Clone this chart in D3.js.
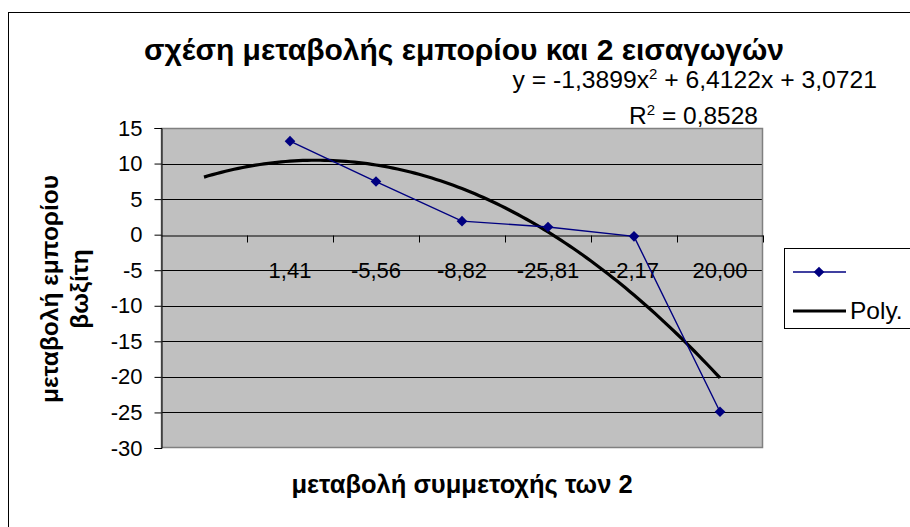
<!DOCTYPE html>
<html>
<head>
<meta charset="utf-8">
<script src="https://cdn.jsdelivr.net/npm/d3@7"></script>
<style>
  html, body { margin: 0; padding: 0; background: #fff; }
  svg { display: block; font-family: "Liberation Sans", Arial, sans-serif; }
</style>
</head>
<body>
<svg id="chart" width="910" height="527"></svg>
<script>
// ---- data ----
const categories = ["", "1,41", "-5,56", "-8,82", "-25,81", "-2,17", "20,00"];
const values = [null, 13.15, 7.47, 1.9, 1.08, -0.24, -24.9];
const yTicks = [15, 10, 5, 0, -5, -10, -15, -20, -25, -30];
const trendCoefficients = [-1.3899, 6.4122, 3.0721]; // a x^2 + b x + c
const rSquared = "0,8528";
const titleText = "σχέση μεταβολής εμπορίου και 2 εισαγωγών";
const xTitleText = "μεταβολή συμμετοχής των 2";
const yTitleLines = ["μεταβολή εμπορίου", "βωξίτη"];
const legendLabels = ["", "Poly."];

// ---- layout ----
const plot = { left: 161, right: 763, top: 128, bottom: 448 };
const svg = d3.select("#chart");
const FONT = "Liberation Sans, Arial, sans-serif";

// chart border
svg.append("rect").attr("x", 8.5).attr("y", 12.5).attr("width", 1000).attr("height", 600)
  .attr("fill", "#fff").attr("stroke", "#000").attr("stroke-width", 1);

const x = d3.scaleBand().domain(d3.range(categories.length)).range([plot.left, plot.right]).padding(0);
const xc = i => x(i) + x.bandwidth() / 2;
const y = d3.scaleLinear().domain([-30, 15]).range([plot.bottom, plot.top]);

// plot area
svg.append("rect").attr("x", plot.left).attr("y", plot.top)
  .attr("width", plot.right - plot.left).attr("height", plot.bottom - plot.top)
  .attr("fill", "#c0c0c0");

// gridlines
svg.append("g").selectAll("line").data(yTicks.filter(v => v !== 15 && v !== -30 && v !== 0)).join("line")
  .attr("x1", plot.left).attr("x2", plot.right)
  .attr("y1", d => Math.round(y(d)) + 0.5).attr("y2", d => Math.round(y(d)) + 0.5)
  .attr("stroke", "#000").attr("stroke-width", 1);

// plot border (gray)
svg.append("rect").attr("x", plot.left + 0.5).attr("y", plot.top + 0.5)
  .attr("width", plot.right - plot.left - 1).attr("height", plot.bottom - plot.top - 1)
  .attr("fill", "none").attr("stroke", "#808080").attr("stroke-width", 1.5);

// y axis
const yAxis = d3.axisLeft(y).tickValues(yTicks).tickSize(7).tickPadding(12).tickFormat(d => String(d));
const gy = svg.append("g").attr("transform", `translate(${plot.left + 0.5},0)`).call(yAxis);
gy.select(".domain").attr("stroke", "#000");
gy.selectAll(".tick line").attr("stroke", "#000");
gy.selectAll(".tick text").attr("font-size", 22).attr("fill", "#000").attr("font-family", FONT);

// x axis at y = 0
const xAxis = d3.axisBottom(x).tickSize(0).tickFormat(i => categories[i]);
const y0 = Math.round(y(0)) + 0.5;
const gx = svg.append("g").attr("transform", `translate(0,${y0})`).call(xAxis);
gx.select(".domain").attr("stroke", "#000");
gx.selectAll(".tick text").attr("font-size", 22).attr("fill", "#000").attr("font-family", FONT)
  .attr("y", 42).attr("dy", 0);
// tick marks between categories
const boundaries = d3.range(1, categories.length + 1).map(i => plot.left + i * x.bandwidth());
svg.append("g").selectAll("line").data(boundaries).join("line")
  .attr("x1", d => Math.round(d) + 0.5).attr("x2", d => Math.round(d) + 0.5)
  .attr("y1", y0).attr("y2", y0 + 7).attr("stroke", "#000");

// trendline
const poly = t => trendCoefficients[0] * t * t + trendCoefficients[1] * t + trendCoefficients[2];
const tx = d3.scaleLinear().domain([1, categories.length]).range([xc(0), xc(categories.length - 1)]);
const tSamples = d3.range(1, categories.length + 0.001, 0.05);
svg.append("path").datum(tSamples)
  .attr("d", d3.line().x(t => tx(t)).y(t => y(poly(t))))
  .attr("fill", "none").attr("stroke", "#000").attr("stroke-width", 3.2);

// series line
const pts = values.map((v, i) => ({ i, v })).filter(d => d.v !== null);
svg.append("path").datum(pts)
  .attr("d", d3.line().x(d => xc(d.i)).y(d => y(d.v)))
  .attr("fill", "none").attr("stroke", "#000080").attr("stroke-width", 1.4);
const diamond = d3.symbol().type(d3.symbolDiamond2).size(72);
svg.append("g").selectAll("path").data(pts).join("path")
  .attr("transform", d => `translate(${xc(d.i)},${y(d.v)})`)
  .attr("d", diamond).attr("fill", "#000080");

// title
svg.append("text").attr("x", 464).attr("y", 60).attr("text-anchor", "middle")
  .attr("font-size", 30).attr("font-weight", "bold").text(titleText);

// equation
const fmt = v => (Math.abs(v)).toFixed(4).replace(".", ",");
const eq = svg.append("text").attr("x", 877).attr("y", 88).attr("text-anchor", "end").attr("font-size", 24.7);
eq.append("tspan").text(`y = ${trendCoefficients[0] < 0 ? "-" : ""}${fmt(trendCoefficients[0])}x`);
eq.append("tspan").attr("dy", -9).attr("font-size", 15).text("2");
eq.append("tspan").attr("dy", 9).text(` + ${fmt(trendCoefficients[1])}x + ${fmt(trendCoefficients[2])}`);
const r2 = svg.append("text").attr("x", 758).attr("y", 124).attr("text-anchor", "end").attr("font-size", 24.5);
r2.append("tspan").text("R");
r2.append("tspan").attr("dy", -9).attr("font-size", 15).text("2");
r2.append("tspan").attr("dy", 9).text(` = ${rSquared}`);

// axis titles
svg.append("text").attr("x", 462).attr("y", 493).attr("text-anchor", "middle")
  .attr("font-size", 25.5).attr("font-weight", "bold").text(xTitleText);
const yt = svg.append("text").attr("transform", `translate(0,289) rotate(-90)`)
  .attr("text-anchor", "middle").attr("font-size", 24.5).attr("font-weight", "bold");
yTitleLines.forEach((l, k) => yt.append("tspan").attr("x", 0).attr("y", 58 + k * 30).text(l));

// legend
const lg = svg.append("g");
lg.append("rect").attr("x", 784.5).attr("y", 248.5).attr("width", 200).attr("height", 80)
  .attr("fill", "#fff").attr("stroke", "#000");
lg.append("line").attr("x1", 793).attr("x2", 846).attr("y1", 272).attr("y2", 272)
  .attr("stroke", "#000080").attr("stroke-width", 1.4);
lg.append("path").attr("transform", "translate(819,272)").attr("d", diamond).attr("fill", "#000080");
lg.append("line").attr("x1", 793).attr("x2", 846).attr("y1", 311).attr("y2", 311)
  .attr("stroke", "#000").attr("stroke-width", 3.2);
lg.append("text").attr("x", 850).attr("y", 319).attr("font-size", 24.5).text(legendLabels[1]);
lg.append("text").attr("x", 850).attr("y", 280).attr("font-size", 24.5).text(legendLabels[0]);
</script>
</body>
</html>
